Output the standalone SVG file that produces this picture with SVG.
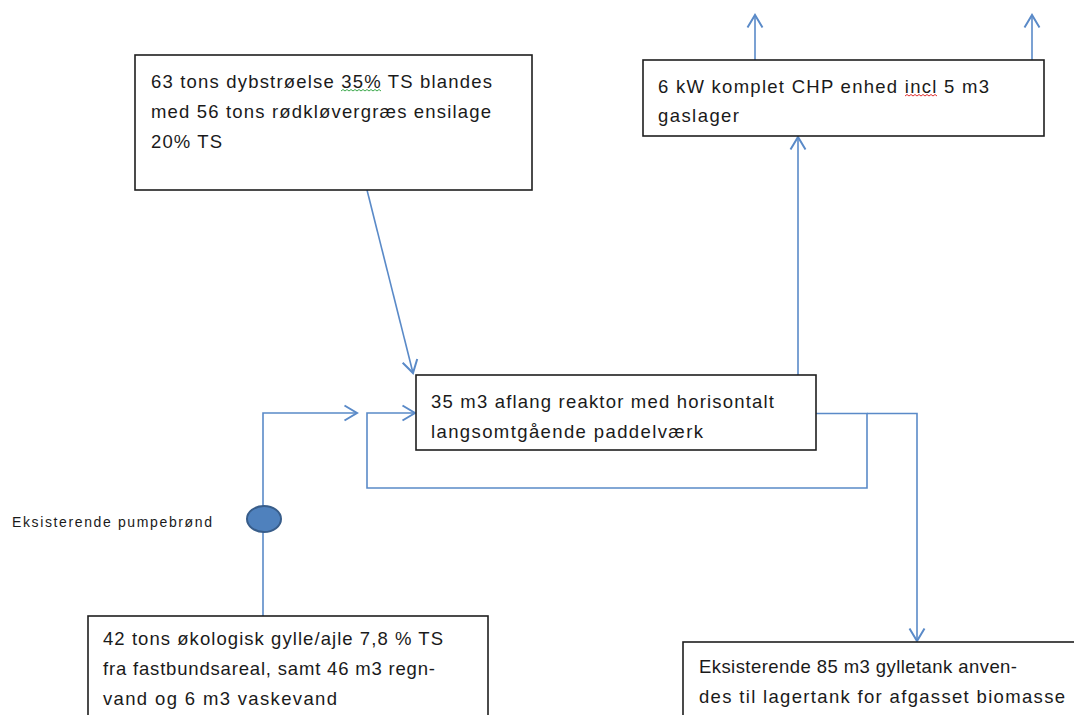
<svg xmlns="http://www.w3.org/2000/svg" width="1074" height="715" viewBox="0 0 1074 715">
  <style>
    .box { fill: #ffffff; stroke: #1f1f1f; stroke-width: 1.6; }
    .t { font-family: "Liberation Sans", Arial, sans-serif; font-size: 18.5px; fill: #1a1a1a; }
    .small { font-family: "Liberation Sans", Arial, sans-serif; font-size: 14px; fill: #1a1a1a; }
    .conn { fill: none; stroke: #5a8ac8; stroke-width: 1.6; }
    .sq { fill: none; stroke-width: 1; }
  </style>
  <defs>
    <marker id="arr" markerUnits="userSpaceOnUse" markerWidth="20" markerHeight="20" viewBox="-12 -8 14 16" refX="0" refY="0" orient="auto">
      <path d="M-10,-6 L0,0 L-10,6" fill="none" stroke="#5a8ac8" stroke-width="1.6"/>
    </marker>
  </defs>
  <rect width="1074" height="715" fill="#ffffff"/>

  <g id="connectors">
    <path class="conn" d="M367,190 L413,373" marker-end="url(#arr)"/>
    <path class="conn" d="M798,375 L798,137" marker-end="url(#arr)"/>
    <path class="conn" d="M755,60 L755,15" marker-end="url(#arr)"/>
    <path class="conn" d="M1032,60 L1032,15" marker-end="url(#arr)"/>
    <path class="conn" d="M263,616 L263,413 L357,413" marker-end="url(#arr)"/>
    <path class="conn" d="M816,413.5 L867,413.5 L867,488 L367,488 L367,413 L415,413" marker-end="url(#arr)"/>
    <path class="conn" d="M867,413.5 L917,413.5 L917,641" marker-end="url(#arr)"/>
  </g>

  <g id="node-input-dybstroelse">
    <rect class="box" x="135" y="55" width="397" height="135"/>
    <text class="t" x="151" y="88" textLength="341" lengthAdjust="spacing">63 tons dybstrøelse 35% TS blandes</text>
    <text class="t" x="151" y="118" textLength="340" lengthAdjust="spacing">med 56 tons rødkløvergræs ensilage</text>
    <text class="t" x="151" y="148" textLength="71" lengthAdjust="spacing">20% TS</text>
    <path class="sq" stroke="#3aa84a" d="M341,91 l2,-1.5 l2,1.5 l2,-1.5 l2,1.5 l2,-1.5 l2,1.5 l2,-1.5 l2,1.5 l2,-1.5 l2,1.5 l2,-1.5 l2,1.5 l2,-1.5 l2,1.5 l2,-1.5 l2,1.5 l2,-1.5 l2,1.5 l2,-1.5 l2,1.5"/>
  </g>

  <g id="node-chp">
    <rect class="box" x="643" y="60" width="401" height="76"/>
    <text class="t" x="658" y="93" textLength="331" lengthAdjust="spacing">6 kW komplet CHP enhed  incl 5 m3</text>
    <text class="t" x="658" y="122" textLength="81" lengthAdjust="spacing">gaslager</text>
    <path class="sq" stroke="#e03030" d="M905,96 l2,-1.5 l2,1.5 l2,-1.5 l2,1.5 l2,-1.5 l2,1.5 l2,-1.5 l2,1.5 l2,-1.5 l2,1.5 l2,-1.5 l2,1.5 l2,-1.5 l2,1.5 l2,-1.5 l2,1.5"/>
  </g>

  <g id="node-reactor">
    <rect class="box" x="416" y="375" width="400" height="75"/>
    <text class="t" x="431" y="408" textLength="343" lengthAdjust="spacing">35 m3 aflang reaktor med horisontalt</text>
    <text class="t" x="431" y="438" textLength="272" lengthAdjust="spacing">langsomtgående paddelværk</text>
  </g>

  <g id="node-pump">
    <ellipse cx="264" cy="519" rx="17" ry="13" fill="#4f81bd" stroke="#385d8a" stroke-width="2"/>
    <text class="small" x="12" y="527" textLength="200" lengthAdjust="spacing">Eksisterende pumpebrønd</text>
  </g>

  <g id="node-gylle">
    <rect class="box" x="88" y="616" width="400" height="120"/>
    <text class="t" x="103" y="645" textLength="340" lengthAdjust="spacing">42 tons økologisk gylle/ajle 7,8 % TS</text>
    <text class="t" x="103" y="675" textLength="332" lengthAdjust="spacing">fra fastbundsareal, samt 46 m3 regn-</text>
    <text class="t" x="103" y="705" textLength="234" lengthAdjust="spacing">vand og 6 m3 vaskevand</text>
  </g>

  <g id="node-gylletank">
    <rect class="box" x="683" y="642" width="420" height="100"/>
    <text class="t" x="699" y="673" textLength="318" lengthAdjust="spacing">Eksisterende 85 m3 gylletank anven-</text>
    <text class="t" x="699" y="703" textLength="366" lengthAdjust="spacing">des til lagertank for afgasset biomasse</text>
  </g>
</svg>
